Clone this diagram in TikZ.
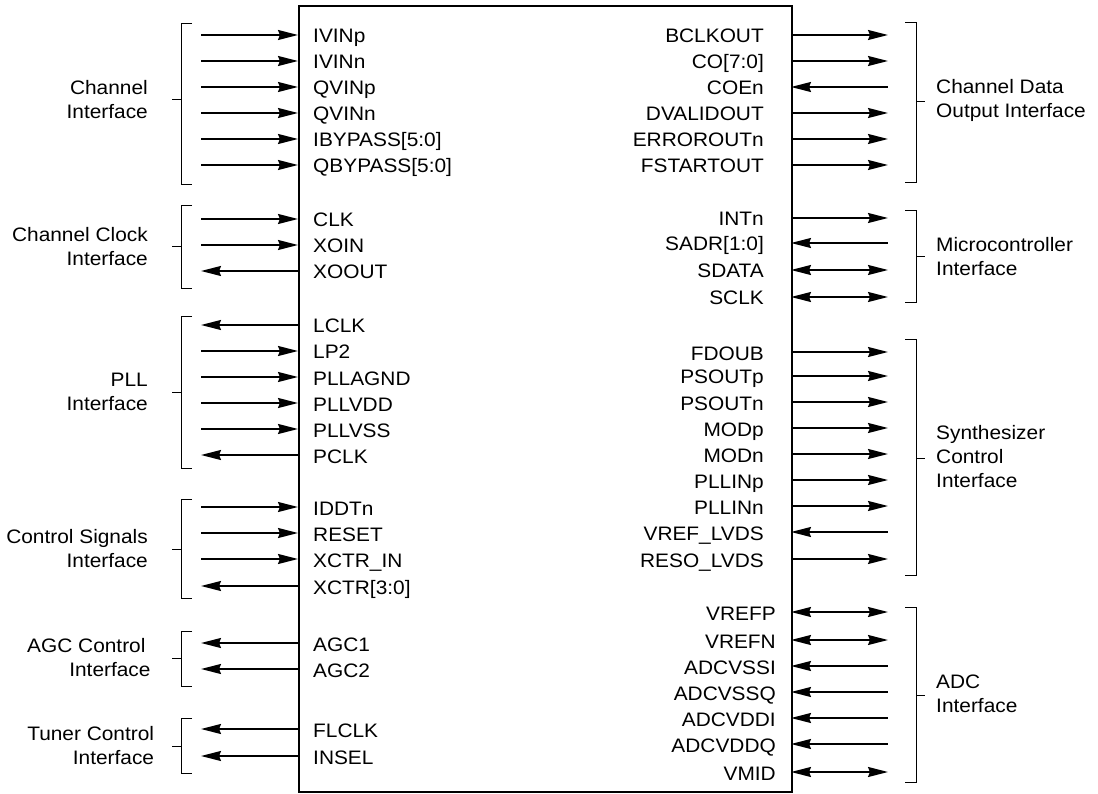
\documentclass[tikz,border=0pt]{standalone}
\usepackage{fontspec}
\setmainfont{Liberation Sans}[FakeStretch=1.07]
\usetikzlibrary{arrows.meta}
\begin{document}
\begin{tikzpicture}[x=1pt,y=-1pt,
  font=\fontsize{19.5}{24}\selectfont,
  >={Stealth[length=20pt,width=10pt,inset=2pt]},
  sig/.style={line width=1.8pt},
  sigend/.style={sig,->},
  sigstart/.style={sig,<-},
  sigboth/.style={sig,<->},
  pinlbl/.style={inner sep=0pt, text height=14pt, text depth=0pt},
  brk/.style={line width=1pt},
  grpl/.style={inner sep=0pt, align=right, anchor=east},
  grpr/.style={inner sep=0pt, align=left, anchor=west},
  chipbox/.style={draw, line width=2pt, inner sep=0pt, minimum width=493pt, minimum height=786pt, anchor=north west}
]
\useasboundingbox (0,0) rectangle (1098,794);

\node[chipbox] (chip) at (298,5) {};

% left pins
\foreach \y/\t/\s [count=\i] in {
  35/IVINp/sigend, 61/IVINn/sigend, 87/QVINp/sigend, 113/QVINn/sigend,
  139/{IBYPASS[5:0]}/sigend, 165/{QBYPASS[5:0]}/sigend,
  219/CLK/sigend, 245/XOIN/sigend, 271/XOOUT/sigstart,
  325/LCLK/sigstart, 351/LP2/sigend, 377/PLLAGND/sigend, 403/PLLVDD/sigend,
  429/PLLVSS/sigend, 455/PCLK/sigstart,
  507/IDDTn/sigend, 533/RESET/sigend, 559/XCTR\_IN/sigend, 586/{XCTR[3:0]}/sigstart,
  643/AGC1/sigstart, 669/AGC2/sigstart,
  729/FLCLK/sigstart, 756/INSEL/sigstart}
{
  \coordinate (lp\i) at (298,\y);
  \coordinate (le\i) at (201,\y);
  \node[pinlbl, anchor=west] (ll\i) at (313,\y+1) {\t};
  \draw[\s] (le\i) -- (lp\i);
}

% right pins
\foreach \y/\t/\s/\xr [count=\i] in {
  35/BCLKOUT/sigend/764, 61/{CO[7:0]}/sigend/764, 87/COEn/sigstart/764,
  113/DVALIDOUT/sigend/764, 139/ERROROUTn/sigend/764, 165/FSTARTOUT/sigend/764,
  218/INTn/sigend/764, 243/{SADR[1:0]}/sigstart/764, 270/SDATA/sigboth/764, 297/SCLK/sigboth/764,
  352/FDOUB/sigend/764, 376/PSOUTp/sigend/764, 402/PSOUTn/sigend/764, 428/MODp/sigend/764,
  454/MODn/sigend/764, 480/PLLINp/sigend/764, 506/PLLINn/sigend/764,
  532/VREF\_LVDS/sigstart/764, 559/RESO\_LVDS/sigend/764,
  612/VREFP/sigboth/776, 640/VREFN/sigboth/776, 666/ADCVSSI/sigstart/776,
  692/ADCVSSQ/sigstart/776, 718/ADCVDDI/sigstart/776, 744/ADCVDDQ/sigstart/776,
  772/VMID/sigboth/776}
{
  \coordinate (rp\i) at (791,\y);
  \coordinate (re\i) at (888,\y);
  \node[pinlbl, anchor=east] (rl\i) at (\xr,\y+1) {\t};
  \draw[\s] (rp\i) -- (re\i);
}

% left brackets
\draw[brk] (192,24) -- (181,24) -- (181,185) -- (192,185);
\draw[brk] (181,100) -- (172,100);
\node[grpl] (gChan) at (148,100) {Channel\\Interface};

\draw[brk] (192,206) -- (181,206) -- (181,289) -- (192,289);
\draw[brk] (181,247) -- (172,247);
\node[grpl] (gClk) at (148,247) {Channel Clock\\Interface};

\draw[brk] (192,317) -- (181,317) -- (181,468) -- (192,468);
\draw[brk] (181,392) -- (172,392);
\node[grpl] (gPll) at (148,392) {PLL\\Interface};

\draw[brk] (192,499) -- (181,499) -- (181,598) -- (192,598);
\draw[brk] (181,549) -- (172,549);
\node[grpl] (gCtl) at (148,549) {Control Signals\\Interface};

\draw[brk] (192,631) -- (181,631) -- (181,686) -- (192,686);
\draw[brk] (181,658) -- (172,658);
\node[grpl] (gAgc) at (150.7,658) {AGC Control\hspace*{5pt}\\Interface};

\draw[brk] (192,718) -- (181,718) -- (181,773) -- (192,773);
\draw[brk] (181,746) -- (172,746);
\node[grpl] (gTun) at (154.3,746) {Tuner Control\\Interface};

% right brackets
\draw[brk] (905,23) -- (916,23) -- (916,183) -- (905,183);
\draw[brk] (916,101.5) -- (925,101.5);
\node[grpr] (gOut) at (936,100) {Channel Data\\Output Interface};

\draw[brk] (905,211) -- (916,211) -- (916,303) -- (905,303);
\draw[brk] (916,257) -- (925,257);
\node[grpr] (gMcu) at (936,257) {Microcontroller\\Interface};

\draw[brk] (905,340) -- (916,340) -- (916,575) -- (905,575);
\draw[brk] (916,458) -- (925,458);
\node[grpr] (gSyn) at (936,457) {Synthesizer\\Control\\Interface};

\draw[brk] (905,607) -- (916,607) -- (916,782) -- (905,782);
\draw[brk] (916,695) -- (925,695);
\node[grpr] (gAdc) at (936,694) {ADC\\Interface};
\end{tikzpicture}
\end{document}
